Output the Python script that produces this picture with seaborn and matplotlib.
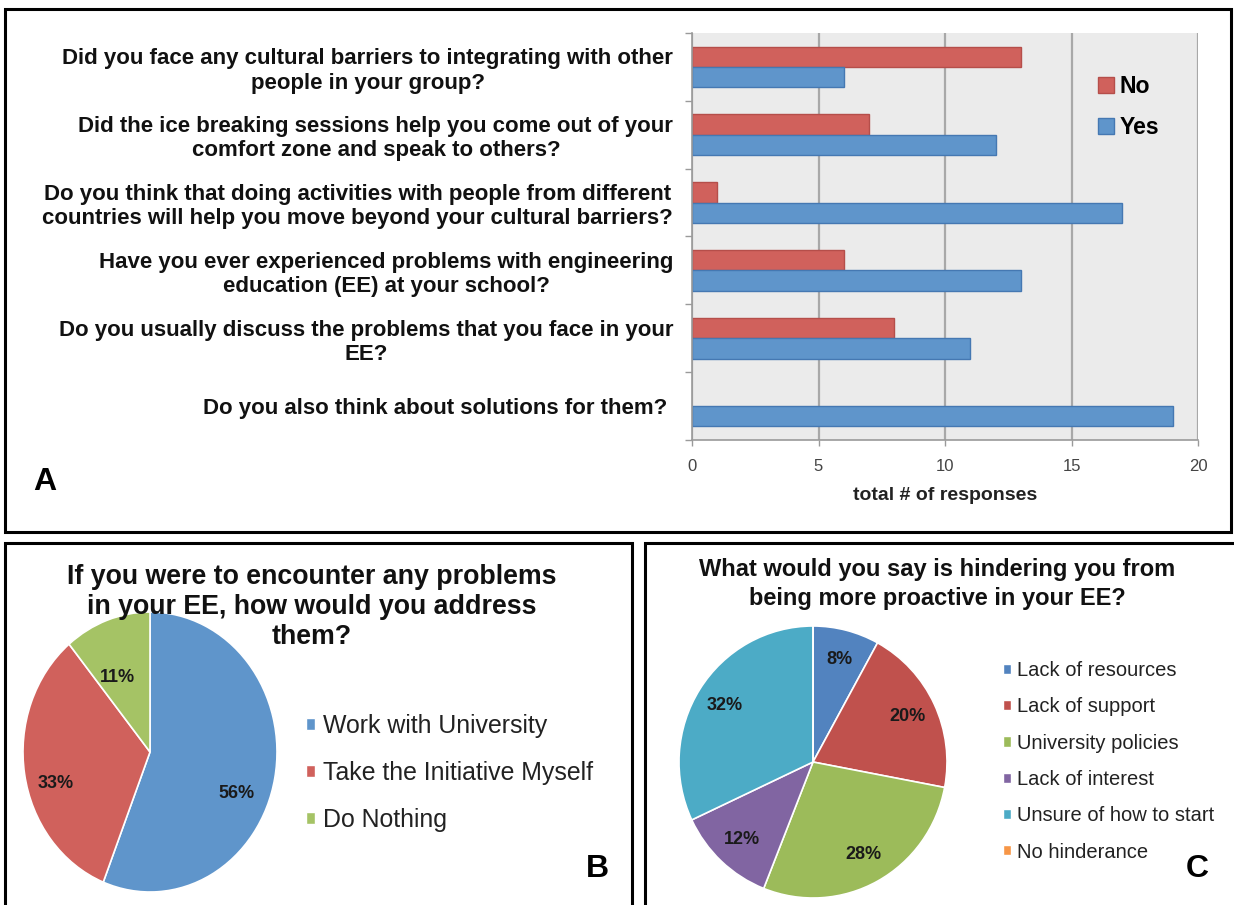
import matplotlib
matplotlib.use("Agg")
import matplotlib.pyplot as plt
from matplotlib.patches import Rectangle, Patch
import seaborn as sns
import pandas as pd
import numpy as np

# ---- data -------------------------------------------------------------
questions = [
    "Did you face any cultural barriers to integrating with other\npeople in your group?",
    "Did the ice breaking sessions help you come out of your\ncomfort zone and speak to others?",
    "Do you think that doing activities with people from different\ncountries will help you move beyond your cultural barriers?",
    "Have you ever experienced problems with engineering\neducation (EE) at your school?",
    "Do you usually discuss the problems that you face in your\nEE?",
    "Do you also think about solutions for them? ",
]
answers = ["No", "Yes"]
no_counts = [13, 7, 1, 6, 8, 0]
yes_counts = [6, 12, 17, 13, 11, 19]
x_ticks = [0, 5, 10, 15, 20]

address_title = "If you were to encounter any problems\nin your EE, how would you address\nthem?"
address_labels = ["Work with University", "Take the Initiative Myself", "Do Nothing"]
address_pct = [56, 33, 11]

hinder_title = "What would you say is hindering you from\nbeing more proactive in your EE?"
hinder_labels = ["Lack of resources", "Lack of support", "University policies",
                 "Lack of interest", "Unsure of how to start", "No hinderance"]
hinder_pct = [8, 20, 28, 12, 32, 0]

# ---- style ------------------------------------------------------------
sns.set_theme(style="white")
plt.rcParams["font.family"] = ["Liberation Sans", "DejaVu Sans"]
plt.rcParams["text.color"] = "black"

bar_fill = {"No": "#D0615C", "Yes": "#5F95CB"}
bar_edge = {"No": "#B54E4A", "Yes": "#4578B2"}
address_colors = ["#5F95CB", "#D0615C", "#A5C365"]
hinder_colors = ["#5283BF", "#C0514D", "#9CBB5A", "#8165A2", "#4CABC6", "#F79646"]
# best-fit placement of the percentage labels inside the first pie:
# radius (fraction of pie radius) and angular nudge from the wedge centre
address_label_radius = [0.745, 0.78, 0.59]
address_label_nudge = [-12.4, 8.0, 5.7]

W, H = 1234, 905
fig = plt.figure(figsize=(W / 100, H / 100), dpi=100)


def fx(px):
    return px / W


def fy(py):
    return 1 - py / H


def box(x0, y0, x1, y1):
    return [fx(x0), fy(y1), (x1 - x0) / W, (y1 - y0) / H]


# panel frames
for x0, y0, x1, y1 in [(5, 9, 1231, 532), (5, 543, 632, 915), (645, 543, 1245, 915)]:
    fig.add_artist(Rectangle((fx(x0), fy(y1)), (x1 - x0) / W, (y1 - y0) / H,
                             transform=fig.transFigure, fill=False,
                             edgecolor="black", linewidth=2.2, zorder=10))

# ---- panel A: grouped horizontal bars ---------------------------------
df = pd.DataFrame({
    "question": questions * 2,
    "answer": ["No"] * len(questions) + ["Yes"] * len(questions),
    "count": no_counts + yes_counts,
})

axA = fig.add_axes(box(692, 33, 1198, 440))
sns.barplot(data=df, y="question", x="count", hue="answer", hue_order=answers,
            palette=bar_fill, orient="y", width=0.6, saturation=1,
            linewidth=1, ax=axA, legend=False)
for cont, ans in zip(axA.containers, answers):
    for bar in cont:
        bar.set_edgecolor(bar_edge[ans])
        if bar.get_width() == 0:
            bar.set_linewidth(0)

axA.set_facecolor("#EBEBEB")
axA.set_xlim(0, 20)
axA.set_ylim(len(questions) - 0.5, -0.5)
axA.set_axisbelow(True)
axA.grid(axis="x", color="#A8A8A8", linewidth=1.6)
axA.grid(axis="y", visible=False)
for side in ["top", "right"]:
    axA.spines[side].set_visible(False)
for side in ["left", "bottom"]:
    axA.spines[side].set_color("#9A9A9A")
    axA.spines[side].set_linewidth(1.2)

axA.set_xticks(x_ticks, labels=[str(t) for t in x_ticks])
axA.tick_params(axis="x", length=4, width=1, color="#9A9A9A", pad=10,
                labelsize=12, labelcolor="#444444", bottom=True)
axA.set_yticks([i - 0.5 for i in range(len(questions) + 1)], labels=[""] * (len(questions) + 1))
axA.set_yticks(range(len(questions)), labels=questions, minor=True)
axA.tick_params(axis="y", which="major", length=5, width=1, color="#9A9A9A", left=True)
axA.tick_params(axis="y", which="minor", length=0, pad=13.5, labelsize=16,
                labelcolor="#111111")
for t in axA.get_yticklabels(minor=True):
    t.set_multialignment("center")
    t.set_fontweight("bold")
    t.set_linespacing(1.2)
axA.set_ylabel("")
axA.set_xlabel("total # of responses", fontsize=14, fontweight="bold",
               color="#222222", labelpad=9)

handlesA = [Patch(facecolor=bar_fill[a], edgecolor=bar_edge[a]) for a in answers]
axA.legend(handlesA, answers, loc="upper left", bbox_to_anchor=(0.802, 0.896),
           frameon=False, prop={"weight": "bold", "size": 16.6},
           handlelength=0.7, handleheight=0.7, handletextpad=0.25,
           labelspacing=0.77, borderpad=0, borderaxespad=0)

fig.text(fx(45), fy(482), "A", fontsize=23, fontweight="bold", ha="center", va="center")

# ---- panel B: pie -----------------------------------------------------
axB = fig.add_axes(box(23, 612, 277, 892))
wedgesB, _, autotextsB = axB.pie(address_pct, colors=address_colors, startangle=90,
                                 counterclock=False, autopct=lambda p: f"{p:.0f}%",
                                 pctdistance=0.75,
                                 wedgeprops=dict(edgecolor="white", linewidth=1.2),
                                 textprops=dict(fontsize=13, fontweight="bold",
                                                color="#1A1A1A"))
for w, t, r, d in zip(wedgesB, autotextsB, address_label_radius, address_label_nudge):
    ang = np.deg2rad((w.theta1 + w.theta2) / 2 + d)
    t.set_position((r * np.cos(ang), r * np.sin(ang)))
axB.set_aspect("auto")
axB.set_xlim(-1, 1)
axB.set_ylim(-1, 1)

fig.text(fx(312), fy(607), address_title, ha="center", va="center",
         fontsize=19.3, fontweight="bold", linespacing=1.22, color="#111111")
handlesB = [Patch(facecolor=c) for c in address_colors]
fig.legend(handlesB, address_labels, loc="upper left", bbox_to_anchor=(fx(306), fy(714)),
           frameon=False, fontsize=17.9, handlelength=0.38, handleheight=0.38,
           handletextpad=0.3, labelspacing=0.93, borderpad=0, borderaxespad=0,
           labelcolor="#222222")
fig.text(fx(597), fy(869), "B", fontsize=23, fontweight="bold", ha="center", va="center")

# ---- panel C: pie -----------------------------------------------------
axC = fig.add_axes(box(679, 626, 947, 898))
axC.pie(hinder_pct, colors=hinder_colors, startangle=90, counterclock=False,
        autopct=lambda p: f"{p:.0f}%" if p > 0 else "", pctdistance=0.78,
        wedgeprops=dict(edgecolor="white", linewidth=1.2),
        textprops=dict(fontsize=13, fontweight="bold", color="#1A1A1A"))
axC.set_aspect("auto")
axC.set_xlim(-1, 1)
axC.set_ylim(-1, 1)

fig.text(fx(937), fy(584), hinder_title, ha="center", va="center",
         fontsize=17, fontweight="bold", linespacing=1.3, color="#111111")
handlesC = [Patch(facecolor=c) for c in hinder_colors]
fig.legend(handlesC, hinder_labels, loc="upper left", bbox_to_anchor=(fx(1003), fy(661)),
           frameon=False, fontsize=14.5, handlelength=0.4, handleheight=0.4,
           handletextpad=0.3, labelspacing=0.86, borderpad=0, borderaxespad=0,
           labelcolor="#222222")
fig.text(fx(1197), fy(869), "C", fontsize=23, fontweight="bold", ha="center", va="center")

fig.savefig("out.png", dpi=100)
